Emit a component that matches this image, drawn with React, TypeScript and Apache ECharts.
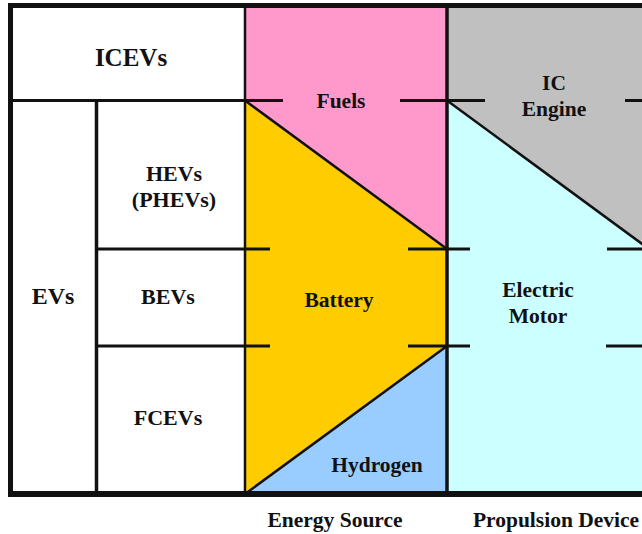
import React, { useEffect, useRef } from "react";
import * as echarts from "echarts";

// ---- Diagram content ----
const vehicleTop = ["ICEVs"];
const vehicleGroup = ["EVs"];
const vehicleTypes = ["HEVs\n(PHEVs)", "BEVs", "FCEVs"];
const energySources = ["Fuels", "Battery", "Hydrogen"];
const propulsionDevices = ["IC\nEngine", "Electric\nMotor"];
const columnTitles = ["Energy Source", "Propulsion Device"];

// ---- Layout (pixels) ----
const X_LEFT = 10.5;
const X_EV = 96.5;
const X_ES = 245;
const X_PD = 447;
const X_END = 649;
const Y_TOP = 5.5;
const Y_ICE = 100.5;
const Y_HEV = 249;
const Y_BEV = 346;
const Y_BOT = 494;

const INK = "#111";

export default function App() {
  const ref = useRef<HTMLDivElement>(null);
  useEffect(() => {
    if (!ref.current) return;
    const chart = echarts.init(ref.current, undefined, { renderer: "svg" });

    const poly = (points: number[][], fill: string) => ({
      type: "polygon",
      z: 1,
      shape: { points },
      style: { fill, stroke: "none" },
    });
    const line = (x1: number, y1: number, x2: number, y2: number, w: number) => ({
      type: "line",
      z: 5,
      shape: { x1, y1, x2, y2 },
      style: { stroke: INK, lineWidth: w },
    });
    const text = (t: string, x: number, y: number, size: number) => ({
      type: "text",
      z: 10,
      x,
      y,
      style: {
        text: t,
        fill: INK,
        font: `bold ${size}px "Liberation Serif", "Times New Roman", serif`,
        lineHeight: 26,
        align: "center",
        verticalAlign: "middle",
      },
    });

    const elements: any[] = [
      // fills
      poly([[X_ES, Y_TOP], [X_PD, Y_TOP], [X_PD, Y_HEV], [X_ES, Y_ICE]], "#FF99CC"),
      poly([[X_ES, Y_ICE], [X_PD, Y_HEV], [X_PD, Y_BEV], [X_ES, Y_BOT]], "#FFCC00"),
      poly([[X_PD, Y_BEV], [X_PD, Y_BOT], [X_ES, Y_BOT]], "#99CCFF"),
      poly([[X_PD, Y_TOP], [X_END, Y_TOP], [X_END, Y_HEV], [X_PD, Y_ICE]], "#C0C0C0"),
      poly([[X_PD, Y_ICE], [X_END, Y_HEV], [X_END, Y_BOT], [X_PD, Y_BOT]], "#CCFFFF"),

      // diagonals
      line(X_ES, Y_ICE, X_PD, Y_HEV, 2.5),
      line(X_ES, Y_BOT, X_PD, Y_BEV, 2.5),
      line(X_PD, Y_ICE, X_END, Y_HEV, 2.5),

      // vertical lines
      line(X_EV, Y_ICE, X_EV, Y_BOT, 3.5),
      line(X_ES, Y_TOP, X_ES, Y_BOT, 2.5),
      line(X_PD, Y_TOP, X_PD, Y_BOT, 3.5),

      // horizontal lines
      line(X_LEFT, Y_ICE, 283, Y_ICE, 3),
      line(400, Y_ICE, 485, Y_ICE, 3),
      line(625, Y_ICE, 660, Y_ICE, 3),
      line(X_EV, Y_HEV, 270, Y_HEV, 3),
      line(408, Y_HEV, 470, Y_HEV, 3),
      line(607, Y_HEV, 660, Y_HEV, 3),
      line(X_EV, Y_BEV, 270, Y_BEV, 3),
      line(408, Y_BEV, 470, Y_BEV, 3),
      line(606, Y_BEV, 660, Y_BEV, 3),

      // outer frame
      line(8, Y_TOP, 660, Y_TOP, 5),
      line(X_LEFT, 3, X_LEFT, 497, 5),
      line(8, Y_BOT, 660, Y_BOT, 6),

      // texts
      text(vehicleTop[0], 131, 57, 25),
      text(vehicleGroup[0], 53, 296, 24),
      text(vehicleTypes[0], 174, 186, 22),
      text(vehicleTypes[1], 168, 296, 22),
      text(vehicleTypes[2], 168, 417, 22),
      text(energySources[0], 341, 101, 21.5),
      text(energySources[1], 339, 300, 21.5),
      text(energySources[2], 377, 465, 21.5),
      text(propulsionDevices[0], 554, 96, 21.5),
      text(propulsionDevices[1], 538, 303, 21.5),
      text(columnTitles[0], 335, 520, 21.5),
      text(columnTitles[1], 556, 520, 21.5),
    ];

    chart.setOption({
      animation: false,
      backgroundColor: "#ffffff",
      graphic: { elements },
    });
    return () => chart.dispose();
  }, []);

  return (
    <div
      ref={ref}
      style={{ position: "fixed", left: 0, top: 0, width: 642, height: 534 }}
    />
  );
}
